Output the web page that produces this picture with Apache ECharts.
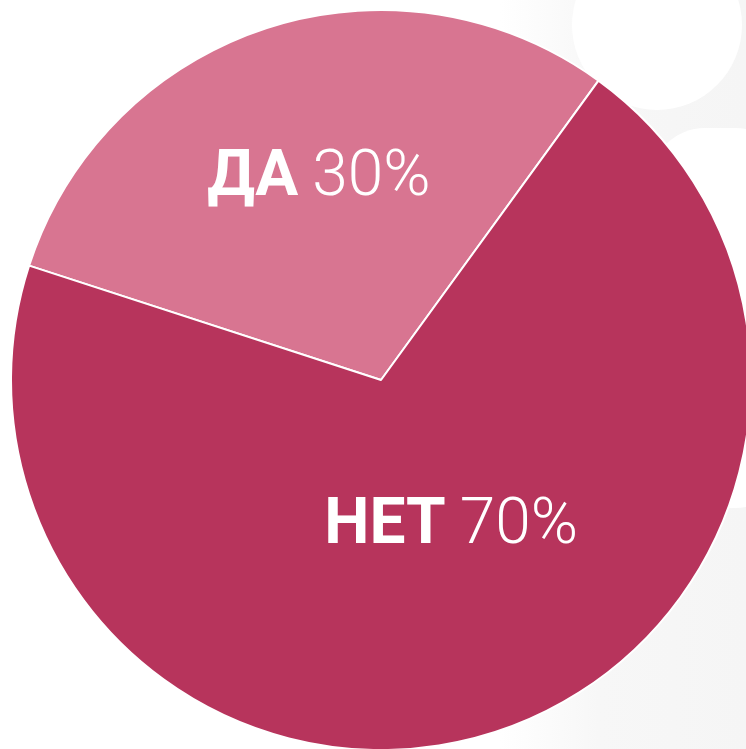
<!DOCTYPE html>
<html>
<head>
<meta charset="utf-8">
<script src="https://cdn.jsdelivr.net/npm/echarts@6/dist/echarts.min.js"></script>
<style>
  html, body { margin: 0; padding: 0; background: #fff; }
  #main { width: 746px; height: 749px; }
</style>
</head>
<body>
<div id="main"></div>
<script>
// данные
var categories = ['ДА', 'НЕТ'];
var values = [30, 70];
var colors = ['#d87591', '#b7345c'];
var labelOffsets = [[-4, -22], [12, -32]];

var myChart = echarts.init(document.getElementById('main'));

var pieData = categories.map(function (name, i) {
    return {
        name: name,
        value: values[i],
        itemStyle: { color: colors[i] },
        label: { offset: labelOffsets[i] }
    };
});

var option = {
    animation: false,
    backgroundColor: '#fff',
    graphic: [
        {
            type: 'rect',
            z: -10,
            shape: { x: 500, y: 0, width: 246, height: 749 },
            style: {
                fill: new echarts.graphic.LinearGradient(0, 0, 1, 0, [
                    { offset: 0, color: '#ffffff' },
                    { offset: 0.4, color: '#f7f7f7' },
                    { offset: 1, color: '#f5f5f5' }
                ])
            }
        },
        {
            type: 'circle',
            z: -9,
            shape: { cx: 657, cy: 25, r: 85 },
            style: { fill: '#fff' }
        },
        {
            type: 'rect',
            z: -9,
            shape: { x: 650, y: 128, width: 140, height: 380, r: 55 },
            style: { fill: '#fff' }
        }
    ],
    series: [
        {
            type: 'pie',
            center: [381, 380],
            radius: 370,
            startAngle: 162,
            clockwise: true,
            silent: true,
            data: pieData,
            itemStyle: {
                borderColor: '#fff',
                borderWidth: 2
            },
            labelLine: { show: false },
            label: {
                show: true,
                position: 'inside',
                formatter: function (p) {
                    return '{b|' + p.name + '}{v|' + p.value + '%}';
                },
                rich: {
                    b: {
                        color: '#fff',
                        fontFamily: 'Roboto',
                        fontWeight: 'bold',
                        fontSize: 64
                    },
                    v: {
                        color: '#fff',
                        fontFamily: 'Roboto',
                        fontWeight: 300,
                        fontSize: 64,
                        padding: [0, 0, 0, 14]
                    }
                }
            }
        }
    ]
};
myChart.setOption(option);
</script>
</body>
</html>
